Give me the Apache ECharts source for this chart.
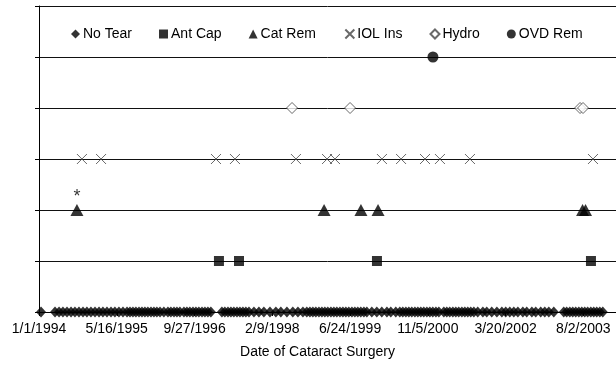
<!DOCTYPE html>
<html>
<head>
<meta charset="utf-8">
<script src="https://cdn.jsdelivr.net/npm/echarts@6/dist/echarts.min.js"></script>
<style>
html,body{margin:0;padding:0;background:#fff;}
#chart{width:616px;height:366px;}
</style>
</head>
<body>
<div id="chart"></div>
<script>
// Days since 1/1/1994 for each event
const noTearDays = [13,103,129,154,180,206,231,257,283,308,334,360,386,411,437,463,488,514,540,566,585,604,623,643,662,681,700,720,739,758,778,803,829,848,868,887,906,932,951,970,990,1009,1028,1048,1067,1086,1105,
  1176,1195,1215,1234,1253,1273,1292,1311,1330,1350,1382,1414,1446,1485,1523,1555,1594,1632,1665,1697,
  1722,1742,1761,1780,1800,1819,1838,1857,1877,1896,1915,1935,1954,1973,1992,2012,2031,2050,2069,2089,2108,
  2140,2172,2204,2237,2262,2294,2320,2339,2359,2378,2397,2417,2436,2455,2474,2494,2513,2532,2552,2571,
  2603,2622,2641,2661,2680,2699,2719,2738,2757,2776,2796,2821,2854,2879,2911,2944,2976,3001,3027,3053,3079,3111,3136,3169,3194,3226,3252,3278,3310,
  3374,3393,3413,3432,3451,3471,3490,3509,3528,3548,3567,3586,3606,3625];
const antCapDays = [1157,1286,2173,3549];
const catRemDays = [244,1833,2070,2180,3495,3514];
const iolInsDays = [276,399,1138,1260,1652,1852,1903,2205,2328,2482,2578,2771,3562];
const hydroDays = [1627,2000,3479,3498];
const ovdRemDays = [2533];
const seriesNames = ['No Tear','Ant Cap','Cat Rem','IOL Ins','Hydro','OVD Rem'];
const seriesLevels = [0,1,2,3,4,5];
const xTickInterval = 500;
const xMin = 0, xMax = 3710;
const xTitle = 'Date of Cataract Surgery';
const starredCatRemIndex = 0;

const FONT = '"Liberation Sans", Arial, sans-serif';
function fmtDate(d){
  const t = new Date(Date.UTC(1994,0,1) + d*86400000);
  return (t.getUTCMonth()+1)+'/'+t.getUTCDate()+'/'+t.getUTCFullYear();
}
function pts(days, lvl){ return days.map(d => [d, lvl]); }

const catData = pts(catRemDays, seriesLevels[2]).map((p,i) => i===starredCatRemIndex ? {
  value:p, label:{show:true, position:'top', distance:-2, formatter:'*', color:'#000', fontSize:18, fontFamily:FONT}
} : p);

const chart = echarts.init(document.getElementById('chart'), null, {renderer:'canvas'});
chart.setOption({
  animation:false,
  backgroundColor:'#fff',
  grid:{left:39, right:0, top:6, bottom:54},
  legend:{
    left:66, top:22, itemGap:27, itemWidth:9, itemHeight:9,
    textStyle:{fontFamily:FONT, fontSize:14, color:'#000', padding:[0,0,0,-2]},
    data:seriesNames
  },
  xAxis:{
    type:'value', min:xMin, max:xMax, interval:xTickInterval,
    axisLine:{show:true, lineStyle:{color:'#000', width:1}},
    axisTick:{show:true, length:4, lineStyle:{color:'#000'}},
    axisLabel:{formatter:fmtDate, fontFamily:FONT, fontSize:14, color:'#000', margin:10, showMaxLabel:false},
    splitLine:{show:false},
    name:xTitle, nameLocation:'middle', nameGap:33,
    nameTextStyle:{fontFamily:FONT, fontSize:14, color:'#000', padding:[0,20,0,0]}
  },
  yAxis:{
    type:'value', min:0, max:6, interval:1,
    axisLine:{show:true, lineStyle:{color:'#000', width:1}},
    axisTick:{show:true, length:4, lineStyle:{color:'#000'}},
    axisLabel:{show:false},
    splitLine:{show:true, lineStyle:{color:'#111', width:1}}
  },
  series:[
    {name:seriesNames[0], type:'scatter', clip:false, symbol:'diamond', symbolSize:[10,11],
     itemStyle:{color:'#000'}, data:pts(noTearDays, seriesLevels[0])},
    {name:seriesNames[1], type:'scatter', clip:false, symbol:'rect', symbolSize:[10,10],
     itemStyle:{color:'#000'}, data:pts(antCapDays, seriesLevels[1])},
    {name:seriesNames[2], type:'scatter', clip:false, symbol:'triangle', symbolSize:[13,12],
     itemStyle:{color:'#000'}, data:catData},
    {name:seriesNames[3], type:'scatter', clip:false, symbol:'path://M0,0L10,10M10,0L0,10', symbolSize:[10,10],
     itemStyle:{color:'none', borderColor:'#444', borderWidth:1}, data:pts(iolInsDays, seriesLevels[3])},
    {name:seriesNames[4], type:'scatter', clip:false, symbol:'diamond', symbolSize:[11,11],
     itemStyle:{color:'#fff', borderColor:'#444', borderWidth:1}, data:pts(hydroDays, seriesLevels[4])},
    {name:seriesNames[5], type:'scatter', clip:false, symbol:'circle', symbolSize:[11,11],
     itemStyle:{color:'#000'}, data:pts(ovdRemDays, seriesLevels[5])}
  ]
});
</script>
</body>
</html>
